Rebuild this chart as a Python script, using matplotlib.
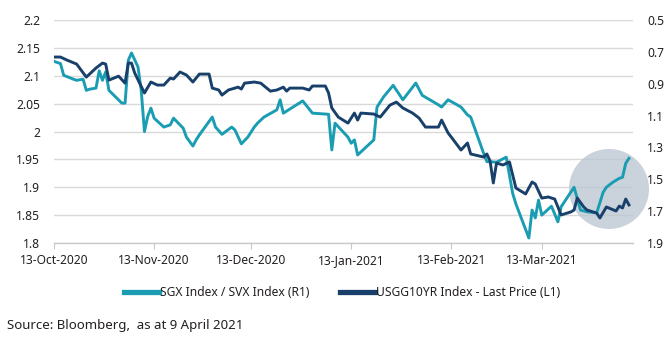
import matplotlib
matplotlib.use("Agg")
import matplotlib.pyplot as plt
import matplotlib.dates as mdates
from matplotlib.patches import Ellipse
from matplotlib.ticker import FuncFormatter
import numpy as np
import pandas as pd

plt.rcParams['font.family'] = ['Noto Sans', 'DejaVu Sans']

# SGX Index / SVX Index (left axis)
ratio_dates = [
    "2020-10-13", "2020-10-15", "2020-10-16", "2020-10-19", "2020-10-20", "2020-10-22",
    "2020-10-23", "2020-10-24", "2020-10-26", "2020-10-27", "2020-10-28", "2020-10-29",
    "2020-10-30", "2020-11-03", "2020-11-04", "2020-11-05", "2020-11-06", "2020-11-08",
    "2020-11-09", "2020-11-10", "2020-11-11", "2020-11-12", "2020-11-13", "2020-11-16",
    "2020-11-18", "2020-11-19", "2020-11-22", "2020-11-23", "2020-11-25", "2020-11-26",
    "2020-11-27", "2020-12-01", "2020-12-02", "2020-12-04", "2020-12-07", "2020-12-08",
    "2020-12-10", "2020-12-12", "2020-12-14", "2020-12-15", "2020-12-17", "2020-12-21",
    "2020-12-22", "2020-12-23", "2020-12-29", "2021-01-01", "2021-01-06", "2021-01-07",
    "2021-01-08", "2021-01-12", "2021-01-13", "2021-01-14", "2021-01-15", "2021-01-20",
    "2021-01-21", "2021-01-23", "2021-01-26", "2021-01-29", "2021-02-02", "2021-02-04",
    "2021-02-09", "2021-02-10", "2021-02-12", "2021-02-16", "2021-02-18", "2021-02-19",
    "2021-02-23", "2021-02-24", "2021-02-27", "2021-03-02", "2021-03-04", "2021-03-05",
    "2021-03-09", "2021-03-10", "2021-03-11", "2021-03-12", "2021-03-13", "2021-03-16",
    "2021-03-18", "2021-03-19", "2021-03-23", "2021-03-25", "2021-03-27", "2021-03-30",
    "2021-04-01", "2021-04-02", "2021-04-04", "2021-04-06", "2021-04-07", "2021-04-08",
    "2021-04-09",
]
ratio_values = [
    2.126, 2.122, 2.101, 2.094, 2.092, 2.094,
    2.074, 2.076, 2.078, 2.109, 2.092, 2.107,
    2.074, 2.051, 2.051, 2.128, 2.141, 2.116,
    2.074, 2.000, 2.027, 2.042, 2.024, 2.008,
    2.012, 2.024, 2.006, 1.990, 1.974, 1.985,
    1.994, 2.026, 2.008, 1.995, 2.008, 2.003,
    1.978, 1.990, 2.008, 2.015, 2.026, 2.039,
    2.057, 2.033, 2.055, 2.033, 2.031, 1.967,
    2.015, 1.990, 1.979, 1.985, 1.958, 1.985,
    2.044, 2.062, 2.083, 2.057, 2.087, 2.065,
    2.048, 2.044, 2.057, 2.044, 2.030, 2.026,
    1.961, 1.946, 1.945, 1.954, 1.889, 1.870,
    1.809, 1.859, 1.845, 1.877, 1.850, 1.866,
    1.838, 1.865, 1.900, 1.859, 1.856, 1.854,
    1.891, 1.900, 1.909, 1.916, 1.918, 1.943,
    1.952,
]

# USGG10YR yield (right axis, inverted)
yield_dates = [
    "2020-10-13", "2020-10-15", "2020-10-17", "2020-10-20", "2020-10-23", "2020-10-26",
    "2020-10-28", "2020-10-29", "2020-10-30", "2020-11-02", "2020-11-04", "2020-11-05",
    "2020-11-06", "2020-11-07", "2020-11-10", "2020-11-12", "2020-11-14", "2020-11-16",
    "2020-11-18", "2020-11-19", "2020-11-21", "2020-11-23", "2020-11-25", "2020-11-27",
    "2020-11-30", "2020-12-01", "2020-12-03", "2020-12-04", "2020-12-06", "2020-12-09",
    "2020-12-10", "2020-12-11", "2020-12-14", "2020-12-16", "2020-12-19", "2020-12-21",
    "2020-12-23", "2020-12-24", "2020-12-25", "2020-12-29", "2020-12-31", "2021-01-01",
    "2021-01-05", "2021-01-06", "2021-01-07", "2021-01-09", "2021-01-12", "2021-01-14",
    "2021-01-15", "2021-01-16", "2021-01-20", "2021-01-22", "2021-01-25", "2021-01-27",
    "2021-01-29", "2021-02-01", "2021-02-03", "2021-02-05", "2021-02-09", "2021-02-10",
    "2021-02-12", "2021-02-13", "2021-02-16", "2021-02-18", "2021-02-19", "2021-02-23",
    "2021-02-24", "2021-02-25", "2021-02-26", "2021-02-27", "2021-03-01", "2021-03-03",
    "2021-03-05", "2021-03-08", "2021-03-10", "2021-03-11", "2021-03-13", "2021-03-15",
    "2021-03-17", "2021-03-19", "2021-03-22", "2021-03-23", "2021-03-24", "2021-03-26",
    "2021-03-27", "2021-03-30", "2021-03-31", "2021-04-02", "2021-04-05", "2021-04-06",
    "2021-04-07", "2021-04-08", "2021-04-09",
]
yield_values = [
    0.732, 0.732, 0.751, 0.776, 0.858, 0.801,
    0.770, 0.776, 0.877, 0.852, 0.896, 0.770,
    0.770, 0.833, 0.958, 0.889, 0.908, 0.908,
    0.864, 0.870, 0.826, 0.845, 0.889, 0.839,
    0.839, 0.927, 0.939, 0.971, 0.939, 0.921,
    0.933, 0.896, 0.889, 0.896, 0.946, 0.939,
    0.921, 0.946, 0.927, 0.927, 0.939, 0.914,
    0.914, 0.958, 1.052, 1.109, 1.147, 1.084,
    1.128, 1.084, 1.090, 1.109, 1.034, 1.015,
    1.052, 1.084, 1.115, 1.172, 1.172, 1.128,
    1.209, 1.235, 1.316, 1.272, 1.341, 1.360,
    1.341, 1.385, 1.523, 1.398, 1.410, 1.391,
    1.555, 1.592, 1.517, 1.530, 1.618, 1.611,
    1.624, 1.724, 1.705, 1.693, 1.618, 1.674,
    1.693, 1.712, 1.743, 1.674, 1.699, 1.668,
    1.680, 1.624, 1.661,
]

left_ticks = [1.8, 1.85, 1.9, 1.95, 2.0, 2.05, 2.1, 2.15, 2.2]
right_ticks = [0.5, 0.7, 0.9, 1.1, 1.3, 1.5, 1.7, 1.9]
x_ticks = ["2020-10-13", "2020-11-13", "2020-12-13", "2021-01-13", "2021-02-13", "2021-03-13"]
labels = ['SGX Index / SVX Index (R1)', 'USGG10YR Index - Last Price (L1)']
source = "Source: Bloomberg,  as at 9 April 2021"

teal = '#1a9db2'
navy = '#18406a'
txt = '#231f20'

fig = plt.figure(figsize=(6.7, 3.37), dpi=100)
renderer = fig.canvas.get_renderer()


def fit_size(s, px):
    # font size so that the string is about px pixels wide
    t = fig.text(0, 0, s, fontsize=10)
    w = t.get_window_extent(renderer).width
    t.remove()
    return 10 * px / w


tick_fs = fit_size("13-Oct-2020", 68)
leg_fs = fit_size(labels[1], 185)
src_fs = fit_size(source, 236)

ax = fig.add_axes([0.0806, 0.279, 0.8642, 0.6613])
ax2 = ax.twinx()

# grid
for v in left_ticks:
    ax.axhline(v, color='#d9d9d9', linewidth=1.0, zorder=0.5)

# highlight circle (behind lines)
circ = Ellipse((609 / 670, 1 - 189 / 337), 80 / 670, 80 / 337, transform=fig.transFigure,
               facecolor='#b9c4cf', alpha=0.75, edgecolor='none', zorder=1, clip_on=False)
ax.add_patch(circ)

l1, = ax.plot(pd.to_datetime(ratio_dates), ratio_values, color=teal, linewidth=2.1,
              solid_joinstyle='round', zorder=2, label=labels[0])
l2, = ax2.plot(pd.to_datetime(yield_dates), yield_values, color=navy, linewidth=2.1,
               solid_joinstyle='round', zorder=2, label=labels[1])

ax.set_xlim(pd.Timestamp("2020-10-13"), pd.Timestamp("2021-04-10 06:00"))
ax.set_ylim(1.8, 2.2)
ax.set_yticks(left_ticks)
ax.yaxis.set_major_formatter(FuncFormatter(lambda v, p: f"{v:g}"))
ax2.set_ylim(1.9, 0.5)
ax2.set_yticks(right_ticks)
ax2.yaxis.set_major_formatter(FuncFormatter(lambda v, p: f"{v:.1f}"))

ax.set_xticks(pd.to_datetime(x_ticks))
ax.xaxis.set_major_formatter(mdates.DateFormatter('%d-%b-%Y'))

for a in (ax, ax2):
    for s in ('top', 'left', 'right', 'bottom'):
        a.spines[s].set_visible(False)
ax.spines['bottom'].set_visible(True)
ax.spines['bottom'].set_color('#c8c8c8')
ax.spines['bottom'].set_linewidth(1.0)

ax.tick_params(axis='x', length=4, color='#c8c8c8', labelsize=tick_fs, labelcolor=txt, pad=4)
ax.tick_params(axis='y', length=0, labelsize=tick_fs, labelcolor=txt, pad=10)
ax2.tick_params(axis='y', length=0, labelsize=tick_fs, labelcolor=txt, pad=10)
ax2.tick_params(axis='x', length=0)

em = leg_fs * 100 / 72
leg = fig.legend(handles=[l1, l2], loc='center', ncol=2,
                 bbox_to_anchor=(342 / 670, 1 - 293 / 337), frameon=False, fontsize=leg_fs,
                 handlelength=35 / em, handletextpad=1 / em, columnspacing=31 / em,
                 borderpad=0, labelcolor=txt)
for h in leg.legend_handles:
    h.set_linewidth(3.8)

fig.text(7 / 670, 1 - 325 / 337, source, fontsize=src_fs,
         color=txt, va='center', ha='left')

fig.savefig('out.png', dpi=100)
